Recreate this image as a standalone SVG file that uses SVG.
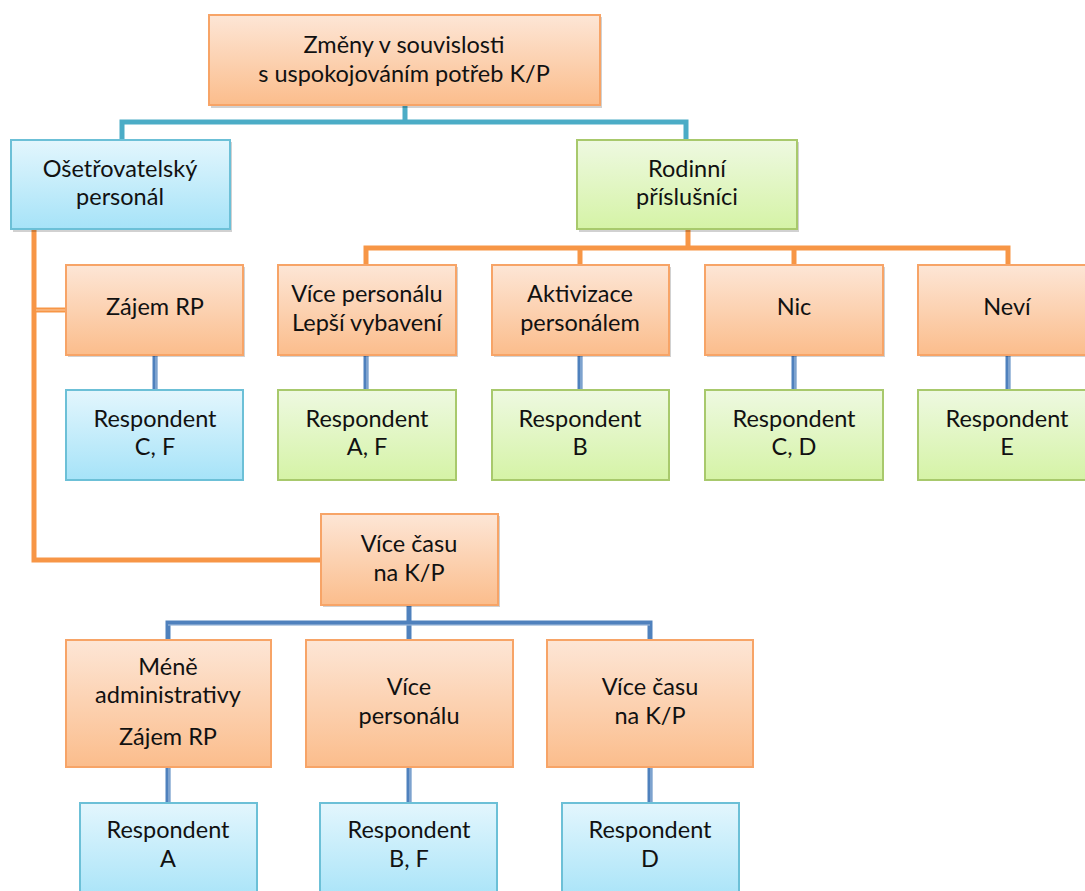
<svg xmlns="http://www.w3.org/2000/svg" width="1085" height="891" viewBox="0 0 1085 891">
  <defs>
    <linearGradient id="gOrange" x1="0" y1="0" x2="0" y2="1">
      <stop offset="0" stop-color="#fde6d6"/>
      <stop offset="1" stop-color="#fbbd8c"/>
    </linearGradient>
    <linearGradient id="gBlue" x1="0" y1="0" x2="0" y2="1">
      <stop offset="0" stop-color="#e3f6fd"/>
      <stop offset="1" stop-color="#a6e3f8"/>
    </linearGradient>
    <linearGradient id="gGreen" x1="0" y1="0" x2="0" y2="1">
      <stop offset="0" stop-color="#eef9e1"/>
      <stop offset="1" stop-color="#d5f3a6"/>
    </linearGradient>
  </defs>
  <style>
    .shadow { fill: #000; opacity: 0.18; }
    .orange { fill: url(#gOrange); stroke: #f7a467; stroke-width: 2; }
    .blue { fill: url(#gBlue); stroke: #6cc0d7; stroke-width: 2; }
    .green { fill: url(#gGreen); stroke: #a8c96c; stroke-width: 2; }
    text { font-family: Lato, "Open Sans", "Liberation Sans", sans-serif; font-size: 23.5px; fill: #111; text-anchor: middle; }
    .teal { stroke: #4bacc6; stroke-width: 5; fill: none; }
    .or { stroke: #f79646; stroke-width: 5; fill: none; }
    .db { stroke: #4f81bd; stroke-width: 5; fill: none; }
    .hl { stroke: #ffffff; stroke-opacity: 0.35; stroke-width: 1.5; fill: none; }
  </style>

  <!-- connectors -->
  <g id="connectors">
    <!-- root to first level -->
    <path class="teal" d="M405,105 V122 M122,140 V122 H686 V140"/>
    <!-- family members to their answers -->
    <path class="or" d="M688,229 V248 M366,265 V248 H1008 V265 M580,248 V265 M794,248 V265"/>
    <!-- nursing staff branch -->
    <path class="or" d="M34,229 V560 H321"/>
    <path class="or" d="M34,310 H66"/>
    <path class="hl" d="M36,310 H66"/>
    <!-- answers to respondents, upper row -->
    <path class="db" d="M155,355 V390 M366,355 V390 M580,355 V390 M794,355 V390 M1008,355 V390"/>
    <path class="hl" d="M367,355 V390 M581,355 V390 M795,355 V390 M1009,355 V390 M156,355 V390"/>
    <!-- more time branch -->
    <path class="db" d="M409,605 V623 M168,640 V623 H650 V640 M409,623 V640"/>
    <path class="hl" d="M168,625 H650"/>
    <!-- lower answers to respondents -->
    <path class="db" d="M168,767 V803 M409,767 V803 M650,767 V803"/>
    <path class="hl" d="M169,767 V803 M410,767 V803 M651,767 V803"/>
  </g>

  <g id="root">
    <rect class="shadow" x="211" y="17" width="391" height="91"/>
    <rect class="orange" x="209" y="15" width="391" height="90"/>
    <text x="404" y="53">Změny v souvislosti</text>
    <text x="404" y="82">s uspokojováním potřeb K/P</text>
  </g>

  <g id="osetrovatelsky">
    <rect class="shadow" x="13" y="142" width="219" height="90"/>
    <rect class="blue" x="11" y="140" width="219" height="89"/>
    <text x="120" y="177">Ošetřovatelský</text>
    <text x="120" y="205">personál</text>
  </g>

  <g id="rodinni">
    <rect class="shadow" x="579" y="142" width="220" height="90"/>
    <rect class="green" x="577" y="140" width="220" height="89"/>
    <text x="687" y="177">Rodinní</text>
    <text x="687" y="205">příslušníci</text>
  </g>

  <g id="zajem-rp">
    <rect class="shadow" x="68" y="267" width="177" height="90"/>
    <rect class="orange" x="66" y="265" width="177" height="90"/>
    <text x="155" y="315">Zájem RP</text>
  </g>

  <g id="vice-personalu-vybaveni">
    <rect class="shadow" x="280" y="267" width="178" height="90"/>
    <rect class="orange" x="278" y="265" width="178" height="90"/>
    <text x="367" y="302">Více personálu</text>
    <text x="367" y="331">Lepší vybavení</text>
  </g>

  <g id="aktivizace">
    <rect class="shadow" x="494" y="267" width="177" height="90"/>
    <rect class="orange" x="492" y="265" width="177" height="90"/>
    <text x="580" y="302">Aktivizace</text>
    <text x="580" y="331">personálem</text>
  </g>

  <g id="nic">
    <rect class="shadow" x="707" y="267" width="178" height="90"/>
    <rect class="orange" x="705" y="265" width="178" height="90"/>
    <text x="794" y="315">Nic</text>
  </g>

  <g id="nevi">
    <rect class="shadow" x="920" y="267" width="178" height="90"/>
    <rect class="orange" x="918" y="265" width="178" height="90"/>
    <text x="1007" y="315">Neví</text>
  </g>

  <g id="respondent-cf">
    <rect class="blue" x="66" y="390" width="177" height="90"/>
    <text x="155" y="427">Respondent</text>
    <text x="155" y="455">C, F</text>
  </g>

  <g id="respondent-af">
    <rect class="green" x="278" y="390" width="178" height="90"/>
    <text x="367" y="427">Respondent</text>
    <text x="367" y="455">A, F</text>
  </g>

  <g id="respondent-b">
    <rect class="green" x="492" y="390" width="177" height="90"/>
    <text x="580" y="427">Respondent</text>
    <text x="580" y="455">B</text>
  </g>

  <g id="respondent-cd">
    <rect class="green" x="705" y="390" width="178" height="90"/>
    <text x="794" y="427">Respondent</text>
    <text x="794" y="455">C, D</text>
  </g>

  <g id="respondent-e">
    <rect class="green" x="918" y="390" width="178" height="90"/>
    <text x="1007" y="427">Respondent</text>
    <text x="1007" y="455">E</text>
  </g>

  <g id="vice-casu">
    <rect class="shadow" x="323" y="516" width="177" height="91"/>
    <rect class="orange" x="321" y="514" width="177" height="91"/>
    <text x="409" y="552">Více času</text>
    <text x="409" y="581">na K/P</text>
  </g>

  <g id="mene-administrativy">
    <rect class="orange" x="66" y="640" width="205" height="127"/>
    <text x="168" y="675">Méně</text>
    <text x="168" y="703">administrativy</text>
    <text x="168" y="745">Zájem RP</text>
  </g>

  <g id="vice-personalu">
    <rect class="orange" x="306" y="640" width="207" height="127"/>
    <text x="409" y="695">Více</text>
    <text x="409" y="724">personálu</text>
  </g>

  <g id="vice-casu-2">
    <rect class="orange" x="547" y="640" width="206" height="127"/>
    <text x="650" y="695">Více času</text>
    <text x="650" y="724">na K/P</text>
  </g>

  <g id="respondent-a">
    <rect class="blue" x="80" y="803" width="177" height="100"/>
    <text x="168" y="838">Respondent</text>
    <text x="168" y="867">A</text>
  </g>

  <g id="respondent-bf">
    <rect class="blue" x="320" y="803" width="177" height="100"/>
    <text x="409" y="838">Respondent</text>
    <text x="409" y="867">B, F</text>
  </g>

  <g id="respondent-d">
    <rect class="blue" x="562" y="803" width="177" height="100"/>
    <text x="650" y="838">Respondent</text>
    <text x="650" y="867">D</text>
  </g>
</svg>
